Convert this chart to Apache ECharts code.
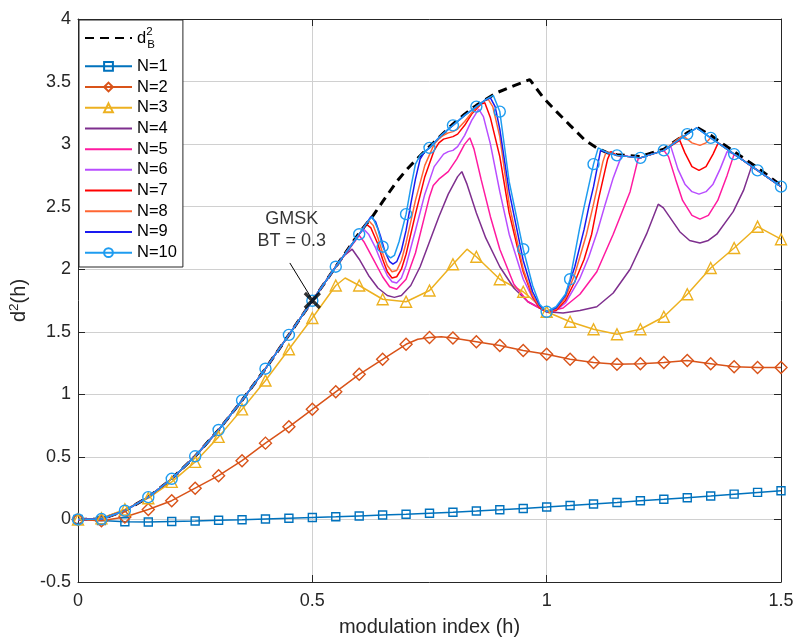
<!DOCTYPE html>
<html><head><meta charset="utf-8">
<script src="https://cdn.jsdelivr.net/npm/echarts@6/dist/echarts.min.js"></script>
<style>html,body{margin:0;padding:0;background:#fff}#c{width:795px;height:638px}</style>
</head><body><div id="c"></div>
<script>
// ---------- data ----------
const hGrid = [0,0.05,0.1,0.15,0.2,0.25,0.3,0.35,0.4,0.45,0.5,0.55,0.6,0.65,0.7,0.75,0.8,0.85,0.9,0.95,1.0,1.05,1.1,1.15,1.2,1.25,1.3,1.35,1.4,1.45,1.5];
const n1 = [0,-0.008,-0.018,-0.02,-0.016,-0.012,-0.007,-0.003,0.003,0.009,0.015,0.021,0.028,0.035,0.042,0.05,0.058,0.067,0.077,0.088,0.099,0.111,0.124,0.136,0.149,0.161,0.174,0.187,0.202,0.216,0.229];
const n2 = [[0,0],[0.05,-0.01],[0.1,0.02],[0.15,0.08],[0.2,0.15],[0.25,0.25],[0.3,0.35],[0.35,0.47],[0.4,0.61],[0.45,0.74],[0.5,0.88],[0.55,1.02],[0.6,1.16],[0.65,1.28],[0.7,1.40],[0.725,1.44],[0.75,1.455],[0.775,1.46],[0.8,1.45],[0.85,1.42],[0.9,1.39],[0.95,1.35],[1.0,1.32],[1.05,1.28],[1.1,1.255],[1.15,1.24],[1.2,1.245],[1.25,1.255],[1.3,1.27],[1.35,1.245],[1.4,1.22],[1.45,1.215],[1.5,1.215]];
const n3 = [[0,0],[0.05,0.01],[0.1,0.08],[0.15,0.17],[0.2,0.30],[0.25,0.46],[0.3,0.66],[0.35,0.88],[0.4,1.11],[0.45,1.36],[0.5,1.61],[0.55,1.87],[0.57,1.93],[0.6,1.87],[0.65,1.76],[0.7,1.74],[0.75,1.83],[0.8,2.04],[0.83,2.16],[0.85,2.10],[0.9,1.92],[0.95,1.82],[1.0,1.66],[1.05,1.58],[1.1,1.52],[1.15,1.48],[1.2,1.52],[1.25,1.62],[1.3,1.80],[1.35,2.01],[1.4,2.17],[1.45,2.34],[1.5,2.24]];
// common start of the curves N>=4 and the bound
const envStart = [[0,0],[0.05,0.003],[0.1,0.07],[0.15,0.178],[0.2,0.325],[0.25,0.505],[0.3,0.715],[0.35,0.952],[0.4,1.205],[0.45,1.475],[0.5,1.748],[0.55,2.02]];
const dB2Tail = [[0.6,2.29],[0.63,2.43],[0.65,2.54],[0.68,2.70],[0.7,2.79],[0.72,2.87],[0.75,2.98],[0.775,3.07],[0.8,3.16],[0.825,3.24],[0.85,3.31],[0.893,3.41],[0.932,3.47],[0.964,3.515],[0.993,3.37],[1.021,3.26],[1.05,3.15],[1.082,3.03],[1.107,2.97],[1.13,2.93],[1.15,2.915],[1.2,2.90],[1.25,2.96],[1.3,3.09],[1.32,3.135],[1.35,3.07],[1.4,2.94],[1.45,2.81],[1.5,2.67]];
const n4Tail = [[0.565,2.10],[0.585,2.16],[0.6,2.08],[0.62,1.95],[0.64,1.85],[0.66,1.79],[0.675,1.775],[0.69,1.79],[0.71,1.87],[0.73,2.02],[0.75,2.22],[0.77,2.42],[0.79,2.60],[0.81,2.74],[0.819,2.78],[0.83,2.68],[0.85,2.45],[0.87,2.25],[0.9,2.02],[0.93,1.85],[0.96,1.74],[1.0,1.66],[1.035,1.65],[1.071,1.67],[1.107,1.70],[1.142,1.81],[1.178,2.0],[1.213,2.28],[1.238,2.52],[1.249,2.49],[1.284,2.30],[1.305,2.23],[1.327,2.21],[1.345,2.23],[1.363,2.28],[1.398,2.46],[1.42,2.63],[1.437,2.82],[1.45,2.79],[1.5,2.66]];
const n5Tail = [[0.6,2.27],[0.61,2.22],[0.63,2.08],[0.65,1.94],[0.665,1.86],[0.68,1.84],[0.7,1.92],[0.72,2.13],[0.74,2.43],[0.75,2.58],[0.758,2.67],[0.77,2.72],[0.79,2.78],[0.808,2.88],[0.825,3.0],[0.836,3.05],[0.845,2.96],[0.86,2.72],[0.88,2.42],[0.9,2.16],[0.93,1.88],[0.96,1.74],[1.0,1.66],[1.035,1.69],[1.071,1.80],[1.107,1.98],[1.142,2.28],[1.178,2.62],[1.195,2.88],[1.2,2.89],[1.25,2.95],[1.26,2.90],[1.275,2.72],[1.29,2.55],[1.31,2.43],[1.327,2.40],[1.345,2.43],[1.365,2.55],[1.385,2.75],[1.4,2.92],[1.45,2.79],[1.5,2.66]];
const n6Tail = [[0.6,2.28],[0.61,2.32],[0.62,2.28],[0.635,2.17],[0.65,2.03],[0.66,1.95],[0.67,1.90],[0.68,1.89],[0.69,1.93],[0.7,2.03],[0.72,2.31],[0.74,2.60],[0.76,2.82],[0.78,2.92],[0.79,2.94],[0.8,2.95],[0.81,2.98],[0.825,3.07],[0.84,3.19],[0.855,3.28],[0.865,3.22],[0.88,3.00],[0.9,2.62],[0.92,2.28],[0.95,1.92],[0.97,1.77],[0.985,1.69],[1.0,1.66],[1.02,1.67],[1.04,1.73],[1.07,1.92],[1.09,2.10],[1.108,2.30],[1.125,2.52],[1.142,2.73],[1.16,2.91],[1.2,2.89],[1.25,2.95],[1.265,2.98],[1.28,2.80],[1.295,2.68],[1.31,2.62],[1.325,2.60],[1.34,2.62],[1.355,2.68],[1.37,2.80],[1.385,2.94],[1.4,2.92],[1.45,2.79],[1.5,2.66]];
const n7Tail = [[0.6,2.28],[0.615,2.36],[0.625,2.33],[0.64,2.20],[0.65,2.08],[0.66,1.98],[0.67,1.93],[0.68,1.94],[0.69,2.00],[0.7,2.12],[0.72,2.44],[0.74,2.74],[0.76,2.95],[0.77,3.01],[0.78,3.04],[0.79,3.05],[0.8,3.06],[0.81,3.08],[0.825,3.15],[0.84,3.24],[0.86,3.32],[0.868,3.33],[0.88,3.21],[0.9,2.90],[0.92,2.45],[0.95,1.98],[0.97,1.78],[0.985,1.69],[1.0,1.66],[1.02,1.67],[1.04,1.75],[1.06,1.90],[1.08,2.08],[1.096,2.28],[1.11,2.55],[1.13,2.88],[1.137,2.94],[1.15,2.91],[1.2,2.89],[1.25,2.95],[1.284,3.03],[1.295,2.93],[1.31,2.82],[1.325,2.79],[1.34,2.82],[1.355,2.92],[1.366,3.01],[1.4,2.92],[1.45,2.79],[1.5,2.66]];
const n8Tail = [[0.6,2.28],[0.62,2.39],[0.63,2.35],[0.64,2.25],[0.65,2.13],[0.66,2.03],[0.67,1.98],[0.68,1.99],[0.69,2.07],[0.7,2.21],[0.72,2.55],[0.74,2.83],[0.76,3.00],[0.775,3.06],[0.79,3.09],[0.8,3.10],[0.81,3.12],[0.825,3.18],[0.84,3.25],[0.86,3.33],[0.875,3.36],[0.885,3.30],[0.9,3.06],[0.92,2.52],[0.95,2.0],[0.97,1.79],[0.985,1.70],[1.0,1.66],[1.02,1.68],[1.04,1.77],[1.06,1.96],[1.085,2.28],[1.1,2.52],[1.12,2.86],[1.127,2.94],[1.15,2.91],[1.2,2.89],[1.25,2.95],[1.29,3.07],[1.31,3.01],[1.327,2.99],[1.34,3.01],[1.35,3.05],[1.4,2.92],[1.45,2.79],[1.5,2.66]];
const n9Tail = [[0.6,2.28],[0.625,2.42],[0.635,2.38],[0.645,2.27],[0.655,2.14],[0.665,2.06],[0.672,2.04],[0.68,2.06],[0.69,2.15],[0.7,2.31],[0.71,2.52],[0.72,2.72],[0.73,2.88],[0.74,2.94],[0.75,2.97],[0.775,3.07],[0.8,3.15],[0.825,3.23],[0.85,3.30],[0.87,3.355],[0.88,3.37],[0.89,3.30],[0.9,3.12],[0.92,2.62],[0.95,2.07],[0.97,1.82],[0.985,1.71],[1.0,1.66],[1.02,1.69],[1.04,1.79],[1.06,2.02],[1.08,2.32],[1.09,2.50],[1.1,2.66],[1.115,2.95],[1.13,2.93],[1.15,2.91],[1.2,2.89],[1.25,2.95],[1.3,3.08],[1.32,3.13],[1.35,3.05],[1.4,2.92],[1.45,2.79],[1.5,2.66]];
const n10Tail = [[0.6,2.28],[0.62,2.39],[0.628,2.42],[0.64,2.32],[0.65,2.18],[0.66,2.11],[0.667,2.09],[0.675,2.11],[0.685,2.22],[0.7,2.44],[0.71,2.65],[0.72,2.84],[0.73,2.91],[0.75,2.97],[0.775,3.07],[0.8,3.15],[0.825,3.23],[0.85,3.30],[0.87,3.355],[0.886,3.39],[0.9,3.26],[0.92,2.70],[0.95,2.16],[0.97,1.87],[0.985,1.72],[1.0,1.66],[1.02,1.70],[1.04,1.80],[1.05,1.92],[1.06,2.12],[1.07,2.32],[1.08,2.50],[1.09,2.67],[1.1,2.84],[1.11,2.97],[1.13,2.93],[1.15,2.91],[1.2,2.89],[1.25,2.95],[1.3,3.08],[1.32,3.13],[1.35,3.05],[1.4,2.92],[1.45,2.79],[1.5,2.66]];
const gmskPoint = [[0.5, 1.75]];
const gmskText = 'GMSK\nBT = 0.3';
const gmskTextPos = [[0.456, 2.31]];
const gmskArrow = [[0.452, 2.05], [0.497, 1.775]];
const seriesNames = ['dB2','N=1','N=2','N=3','N=4','N=5','N=6','N=7','N=8','N=9','N=10'];

// ---------- build ----------
const FONT = 'Liberation Sans, Arial, Helvetica, sans-serif';
const TXT = '#262626';
const CLEAR = 'rgba(0,0,0,0)';
function onMarkerGrid(h){ return Math.abs(h*20 - Math.round(h*20)) < 1e-6; }
function items(pairs, withMarkers){
  return pairs.map(p => (withMarkers && onMarkerGrid(p[0])) ? {value:p} : {value:p, symbol:'none'});
}
const n1Pairs = hGrid.map((h,i)=>[h, n1[i]]);

function lineSeries(name, pairs, color, symbol, size, withMarkers){
  const marked = !!withMarkers;
  return {
    name, type:'line', data: items(pairs, marked),
    symbol: marked ? symbol : 'none', symbolSize: marked ? size : 0,
    showSymbol: true,
    lineStyle:{color, width:1.5},
    itemStyle: marked ? {color:CLEAR, borderColor:color, borderWidth:1.4}
                      : {color:CLEAR, borderColor:CLEAR, borderWidth:0},
    emphasis:{disabled:true}, silent:true, z:3
  };
}

const series = [
  { name:'dB2', type:'line', data: items(envStart.concat(dB2Tail), false), symbol:'none', symbolSize:0,
    lineStyle:{color:'#000', width:3, type:[9,6]}, itemStyle:{color:CLEAR, borderColor:CLEAR, borderWidth:0},
    emphasis:{disabled:true}, silent:true, z:2 },
  lineSeries('N=1', n1Pairs, '#0072BD', 'rect', 8, true),
  lineSeries('N=2', n2, '#D95319', 'diamond', 12, true),
  lineSeries('N=3', n3, '#EDB120', 'triangle', 11, true),
  lineSeries('N=4', envStart.concat(n4Tail), '#7E2F8E'),
  lineSeries('N=5', envStart.concat(n5Tail), '#FF1AA0'),
  lineSeries('N=6', envStart.concat(n6Tail), '#B84DFF'),
  lineSeries('N=7', envStart.concat(n7Tail), '#FF0000'),
  lineSeries('N=8', envStart.concat(n8Tail), '#FF6633'),
  lineSeries('N=9', envStart.concat(n9Tail), '#1A1AF0'),
  lineSeries('N=10', envStart.concat(n10Tail), '#1E9CF0', 'circle', 11, true),
  { name:'GMSK', type:'scatter', data: gmskPoint, symbol:'path://M0,0L10,10M10,0L0,10', symbolSize:15,
    itemStyle:{color:CLEAR, borderColor:'#000', borderWidth:3.2}, z:6, silent:true,
    markLine:{ silent:true, symbol:['none','none'], label:{show:false}, animation:false,
      lineStyle:{color:'#000', width:1, type:'solid'},
      data:[[{coord:gmskArrow[0]},{coord:gmskArrow[1]}]] } },
  { name:'GMSKtext', type:'scatter', data: gmskTextPos, symbolSize:1, silent:true,
    itemStyle:{color:CLEAR}, z:6,
    label:{show:true, position:'inside', formatter: gmskText, fontSize:18, lineHeight:22, color:'#000', fontFamily:FONT} }
];

const chart = echarts.init(document.getElementById('c'), null, {renderer:'canvas'});
chart.setOption({
  animation:false,
  backgroundColor:'#fff',
  textStyle:{fontFamily:FONT},
  grid:{left:78, right:14, top:19, bottom:56, containLabel:false, outerBoundsMode:'none'},
  legend:{
    data: seriesNames, orient:'vertical', left:79, top:20,
    padding:[0,6,4,5], itemGap:0, itemWidth:47, itemHeight:11,
    backgroundColor:'#fff', borderColor:TXT, borderWidth:1, borderRadius:0,
    selectedMode:false,
    textStyle:{fontSize:16.5, color:'#000', lineHeight:20.7, fontFamily:FONT,
      rich:{
        d:{fontSize:16.5, lineHeight:36, color:'#000', fontFamily:FONT},
        sup:{fontSize:11.5, lineHeight:12, verticalAlign:'top', width:1, color:'#000', fontFamily:FONT, padding:[6,0,0,0]},
        sub:{fontSize:11.5, lineHeight:12, verticalAlign:'bottom', color:'#000', fontFamily:FONT, padding:[0,0,5,0]}
      }},
    formatter: n => n === 'dB2' ? '{d|d}{sup|2}{sub|B}' : n
  },
  xAxis:[
    {type:'value', min:0, max:1.5, interval:0.5, position:'bottom',
     name:'modulation index (h)', nameLocation:'middle', nameGap:35,
     nameTextStyle:{fontSize:20, color:TXT, fontFamily:FONT},
     axisLine:{show:true, onZero:false, lineStyle:{color:TXT, width:1}},
     axisTick:{show:true, inside:true, length:7, lineStyle:{color:TXT}},
     axisLabel:{fontSize:18, color:TXT, margin:10, fontFamily:FONT, formatter:v=>String(v)},
     splitLine:{show:true, lineStyle:{color:'#d0d0d0', width:1}}},
    {type:'value', min:0, max:1.5, interval:0.5, position:'top',
     axisLine:{show:true, onZero:false, lineStyle:{color:TXT, width:1}},
     axisTick:{show:true, inside:true, length:7, lineStyle:{color:TXT}},
     axisLabel:{show:false}, splitLine:{show:false}}
  ],
  yAxis:[
    {type:'value', min:-0.5, max:4, interval:0.5, position:'left',
     name:'{a|d}{s|2}{a|(h)}', nameLocation:'middle', nameGap:44, nameRotate:90,
     nameTextStyle:{color:TXT, fontFamily:FONT, rich:{
       a:{fontSize:20, color:TXT, fontFamily:FONT, lineHeight:24},
       s:{fontSize:13.5, color:TXT, fontFamily:FONT, verticalAlign:'top', lineHeight:13}}},
     axisLine:{show:true, onZero:false, lineStyle:{color:TXT, width:1}},
     axisTick:{show:true, inside:true, length:7, lineStyle:{color:TXT}},
     axisLabel:{fontSize:18, color:TXT, margin:7, fontFamily:FONT, formatter:v=>String(v)},
     splitLine:{show:true, lineStyle:{color:'#d0d0d0', width:1}}},
    {type:'value', min:-0.5, max:4, interval:0.5, position:'right',
     axisLine:{show:true, onZero:false, lineStyle:{color:TXT, width:1}},
     axisTick:{show:true, inside:true, length:7, lineStyle:{color:TXT}},
     axisLabel:{show:false}, splitLine:{show:false}}
  ],
  series
});
</script></body></html>
